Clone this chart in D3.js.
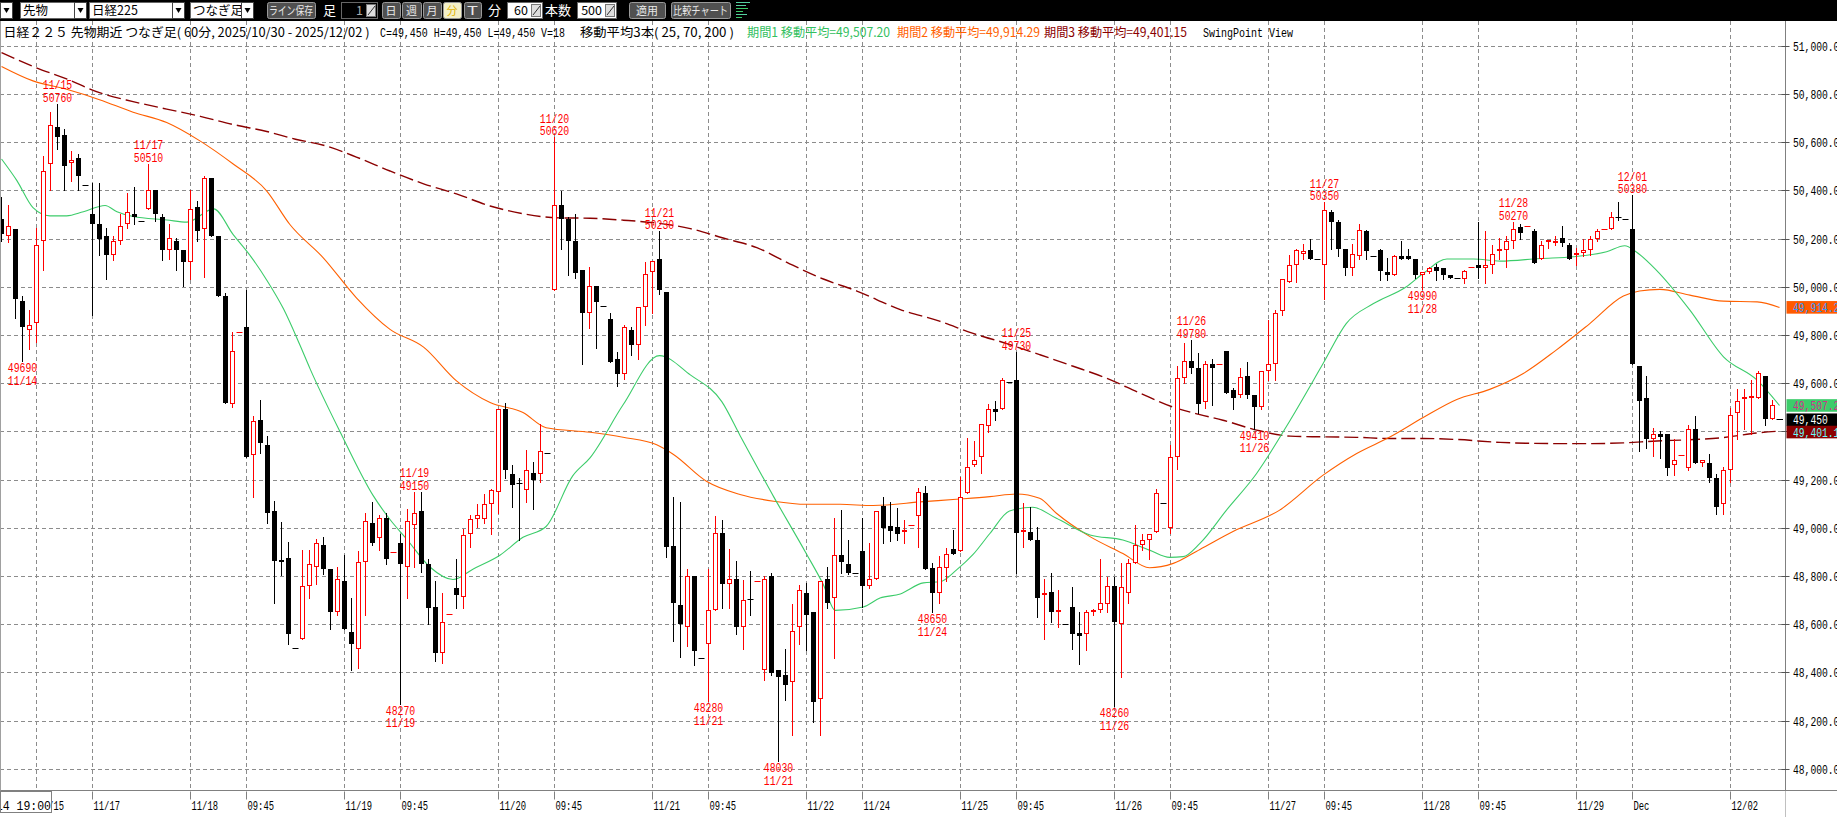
<!DOCTYPE html>
<html><head><meta charset="utf-8">
<script src="https://cdn.jsdelivr.net/npm/d3@7"></script>
<style>html,body{margin:0;padding:0;background:#fff;overflow:hidden}</style>
</head><body>
<svg id="c" width="1837" height="817" xmlns="http://www.w3.org/2000/svg"></svg>
<script>
// ---------------- DATA ----------------
const opens  = [50282,50210,50241,49941,49820,49848,50191,50509,50661,50631,50515,50532,50423,50303,50261,50211,50130,50189,50261,50303,
50273,50322,50402,50291,50151,50191,50151,50101,50330,50241,50452,50211,49962,49514,49812,49834,49302,49445,49343,49071,
48865,48873,48500,48540,48758,48837,48929,48829,48650,48780,48569,48497,48858,49021,48957,49039,48901,48937,48837,49010,
49070,48850,48669,48481,48640,48750,48711,48973,49037,49037,49100,49149,49491,49223,49184,49157,49228,49222,49309,49987,
50337,50280,50189,50069,49889,50004,49920,49868,49698,49637,49819,49758,49917,50060,50117,49979,48922,48681,48589,48800,
48460,48517,48657,48978,48767,48787,48589,48703,48779,48411,48800,48411,48390,48360,48589,48729,48652,48290,48787,48708,
48887,48849,48810,48902,48757,48787,49089,49008,49001,48981,49011,49050,49143,48831,48730,48831,48910,48903,49143,49259,
49293,49420,49492,49492,49605,49614,48981,48983,48951,48719,48732,48651,48602,48671,48563,48560,48651,48660,48682,48760,
48602,48730,48852,48929,48951,48981,49104,49000,49293,49621,49690,49663,49520,49681,49681,49732,49571,49550,49629,49550,
49499,49650,49681,49900,50019,50088,50137,50151,50115,50088,50309,50270,50158,50078,50129,50231,50129,50151,50060,50050,
50129,50129,50117,50050,50059,50082,50079,50050,50036,50030,50082,50088,50079,50088,50148,50152,50189,50249,50252,50231,
50117,50184,50180,50201,50173,50130,50138,50151,50199,50238,50238,50288,50280,50239,49670,49540,49368,49390,49390,49259,
49300,49249,49411,49268,49270,49208,49099,49241,49478,49536,49540,49540,49629,49449,49450];
const highs  = [50371,50340,50241,49962,49903,50242,50544,50724,50760,50654,50561,50552,50423,50432,50432,50242,50210,50303,50389,50413,
50273,50510,50402,50303,50261,50203,50151,50402,50354,50461,50452,50211,49972,49814,49812,49987,49462,49531,49381,49111,
49023,48940,48500,48909,48909,48955,48960,48829,48837,48886,48709,48903,49059,49108,49051,49059,48901,48973,49079,49150,
49150,48870,48780,48730,48640,48870,48993,49051,49100,49141,49160,49491,49519,49261,49207,49322,49271,49432,49309,50620,
50398,50289,50303,50069,50082,50004,49920,49889,49730,49841,49831,49917,50103,50108,50230,49979,49129,49107,48830,48800,
48460,48830,49050,49030,48910,48862,48783,48819,48779,48800,48811,48411,48497,48684,48764,48771,48652,48779,48835,49040,
49072,48951,48810,49042,48938,49070,49129,49105,49081,49032,49011,49164,49173,48852,48882,48914,48990,49209,49372,49360,
49430,49514,49524,49621,49605,49730,49104,49087,49001,48789,48810,48741,48602,48755,48651,48660,48664,48872,48796,48796,
48852,48872,49011,48974,48972,49161,49104,49344,49672,49767,49780,49725,49691,49698,49681,49732,49578,49661,49686,49550,
49650,49861,49902,50030,50131,50158,50179,50200,50115,50350,50320,50276,50158,50179,50262,50237,50129,50158,50119,50133,
50189,50158,50117,50059,50082,50096,50079,50050,50036,50068,50082,50270,50230,50172,50201,50210,50270,50262,50252,50238,
50189,50192,50210,50252,50180,50159,50199,50210,50238,50238,50310,50352,50280,50380,49670,49629,49414,49400,49390,49370,
49300,49428,49462,49280,49307,49221,49252,49498,49577,49577,49612,49651,49629,49529,49450];
const lows   = [50191,50187,49869,49690,49740,49769,50070,50402,50570,50402,50440,50402,50423,49881,50130,50030,50110,50179,50242,50260,
50273,50322,50273,50110,50117,50068,50001,50030,50189,50039,50210,49960,49519,49500,49812,49292,49128,49309,49020,48689,
48803,48519,48500,48540,48709,48768,48809,48581,48637,48581,48410,48418,48637,48929,48906,48850,48901,48270,48709,48837,
48817,48599,48446,48438,48640,48666,48666,48919,49001,49021,48973,49059,49207,49087,48949,49108,49079,49190,49309,49987,
50156,50050,50036,49680,49828,49746,49920,49688,49590,49618,49717,49698,49841,49889,49968,48878,48528,48465,48509,48430,
48460,48280,48657,48668,48668,48557,48497,48636,48779,48366,48390,48030,48287,48141,48517,48493,48195,48141,48668,48458,
48814,48806,48810,48671,48748,48787,48935,48946,48949,48935,49011,48921,48829,48650,48688,48780,48889,48903,49143,49254,
49229,49399,49448,49492,49605,48810,48921,48949,48630,48540,48609,48588,48602,48498,48433,48491,48637,48651,48651,48260,
48380,48688,48852,48907,48872,48981,49104,48979,49243,49600,49642,49476,49495,49509,49681,49560,49491,49543,49539,49410,
49491,49612,49612,49882,50019,50019,50115,50115,50115,49947,50158,50126,50048,50048,50115,50115,50129,50027,50027,50048,
50115,50115,50038,49990,50055,50027,50030,50038,50036,50016,50082,50038,50016,50057,50113,50080,50159,50199,50252,50099,
50117,50159,50171,50169,50116,50088,50127,50130,50189,50238,50238,50277,50280,49681,49318,49332,49296,49289,49220,49220,
49300,49241,49268,49255,49190,49058,49058,49191,49370,49410,49390,49540,49425,49449,49450];
const closes = [50220,50251,49951,49831,49841,50173,50480,50673,50621,50501,50525,50461,50423,50260,50199,50130,50189,50251,50309,50289,
50273,50402,50301,50151,50203,50151,50101,50322,50230,50452,50210,49960,49519,49734,49812,49292,49442,49350,49061,48860,
48858,48560,48500,48758,48850,48937,48829,48650,48788,48581,48517,48858,49029,48937,49039,48870,48901,48850,49029,49059,
48850,48666,48481,48607,48640,48719,48970,49037,49051,49100,49157,49491,49240,49179,49180,49240,49199,49320,49309,50337,
50280,50189,50056,49889,50004,49938,49920,49688,49637,49831,49758,49917,50051,50108,49987,48919,48687,48601,48800,48487,
48460,48657,48978,48767,48787,48589,48700,48698,48779,48787,48398,48379,48346,48570,48740,48636,48276,48779,48687,48887,
48859,48814,48810,48757,48787,49070,48999,48986,48974,48990,49011,49150,48829,48730,48838,48889,48889,49129,49251,49281,
49430,49492,49480,49611,49605,48979,48990,48949,48710,48730,48651,48660,48602,48560,48549,48651,48660,48689,48760,48609,
48752,48852,48929,48951,48972,49143,49104,49293,49621,49690,49663,49514,49681,49661,49681,49560,49539,49626,49550,49499,
49650,49681,49889,50030,50088,50151,50150,50115,50115,50320,50270,50158,50078,50137,50237,50148,50129,50064,50049,50129,
50115,50115,50049,50059,50078,50066,50050,50038,50036,50066,50082,50079,50088,50137,50156,50189,50238,50221,50252,50099,
50171,50192,50189,50180,50116,50138,50151,50199,50231,50238,50288,50284,50280,49681,49526,49368,49390,49376,49249,49280,
49300,49411,49268,49280,49208,49086,49241,49468,49526,49542,49548,49640,49449,49511,49450];

// moving averages: [bar index, value]
const ma25 = [[0,50530],[2.2,50440],[4.5,50328],[6.9,50294],[9.3,50294],[11.7,50311],[14.8,50337],[16.5,50311],[18.8,50291],[23.6,50277],
[26.5,50268],[30.3,50323],[33.1,50216],[35.5,50130],[37.9,50027],[40.3,49907],[42.6,49760],[44.1,49658],[48.4,49396],[53.1,49133],
[55.5,49034],[57.9,48952],[61.2,48837],[64.5,48785],[67.4,48829],[71.2,48886],[74.5,48960],[77.8,49005],[81.6,49215],[84.1,49291],
[88.8,49510],[94,49714],[98.4,49634],[102.9,49523],[105.5,49383],[110.3,49129],[115,48891],[117.4,48764],[119.1,48657],[123.1,48671],
[125.5,48708],[128.4,48725],[131.7,48771],[134.1,48776],[136.4,48824],[138.8,48889],[141.2,48976],[144,49069],[147.3,49085],[150.7,49039],
[155.5,48970],[160.2,48949],[164,48907],[166.9,48877],[168.8,48880],[171.2,48935],[175,49073],[179.3,49225],[184.1,49446],[188.8,49681],
[192.1,49847],[196,49930],[200.7,50000],[203.1,50055],[206.5,50115],[210.3,50115],[214.1,50106],[219.8,50117],[224.5,50124],[229.3,50145],
[231.9,50170],[233.5,50145],[236.4,50069],[241.2,49903],[246,49709],[250.8,49612],[254,49507]];
const ma70 = [[0,50914],[4.5,50854],[9.3,50819],[14,50776],[18.8,50724],[23.6,50681],[28.4,50604],[33.1,50509],[37.9,50397],[41.2,50258],
[46,50119],[50.7,49954],[55.5,49823],[60.3,49749],[65,49609],[69.8,49519],[74.5,49478],[77.8,49415],[84.1,49396],[88.8,49375],
[93.6,49344],[96,49304],[100.7,49193],[105.5,49138],[110.3,49110],[115,49097],[119.8,49097],[124.5,49092],[131.7,49108],[136.4,49118],
[141.2,49129],[145,49140],[148.3,49122],[150.7,49060],[155.5,48963],[160.2,48893],[164,48834],[167.4,48852],[171.2,48910],[176,48985],
[182.6,49073],[188.8,49218],[193.6,49308],[198.4,49377],[203.1,49457],[207.9,49532],[212.6,49574],[217.4,49640],[222.1,49737],[226.9,49847],
[231.7,49961],[234,49982],[236.9,49989],[241.2,49965],[246,49940],[250.8,49937],[254,49914]];
const ma200 = [[0,50971],[4.5,50914],[9.3,50862],[14,50805],[18.8,50768],[23.6,50737],[28.4,50707],[33.1,50673],[37.9,50644],[42,50612],
[46,50587],[50.7,50538],[55.5,50480],[60.3,50427],[65,50385],[69.8,50335],[74.5,50303],[79.3,50286],[84.1,50284],[88.8,50276],
[93.6,50264],[98.4,50241],[103.1,50202],[107.9,50162],[112.6,50095],[117.4,50032],[122.2,49982],[128.4,49905],[134,49857],[138.8,49806],
[143.6,49764],[148.3,49718],[153.1,49670],[157.8,49621],[162.6,49559],[167.4,49500],[171.2,49469],[174.5,49446],[179.3,49405],[184.1,49380],
[188.8,49377],[193.6,49375],[198.4,49370],[203.1,49370],[207.9,49366],[214.1,49354],[222.1,49349],[226.9,49349],[231.7,49352],[236.5,49360],
[241.2,49365],[246,49374],[250.8,49393],[254,49401]];

const priceTicks = [48000,48200,48400,48600,48800,49000,49200,49400,49600,49800,50000,50200,50400,50600,50800,51000];
const timeTickIdx = [5,13,27,35,49,57,71,79,93,101,115,123,137,145,159,167,181,189,203,211,225,233,247];
const timeTickLabels = ["11/15","11/17","11/18","09:45","11/19","09:45","11/20","09:45","11/21","09:45","11/22","11/24","11/25","09:45","11/26","09:45","11/27","09:45","11/28","09:45","11/29","Dec","12/02"];

const swingHighIdx = [8,21,59,79,94,145,170,189,216,233];
const swingHighDate = ["11/15","11/17","11/19","11/20","11/21","11/25","11/26","11/27","11/28","12/01"];
const swingLowIdx = [3,57,101,111,133,159,179,203];
const swingLowDate = ["11/14","11/19","11/21","11/21","11/24","11/26","11/26","11/28"];

const lastValues = [49914.29, 49507.20, 49450, 49401.15];
const lastLabels = ["49,914.29","49,507.20","49,450","49,401.15"];

// ---------------- DRAW ----------------
const W = 1837, H = 817;
const svg = d3.select("#c");
const N = closes.length;
const x = d3.scaleLinear().domain([0, N-1]).range([1.5, 1.5 + 7*(N-1)]);
const y = d3.scaleLinear().domain([48000, 51000]).range([768.7, 45.7]);
const axisX = 1785.5, plotTop = 21, plotBottom = 790.5;
const RED = "#ff0000", GRID = "#8c8c8c";
const MONO = "'Liberation Mono','DejaVu Sans Mono',monospace";
const JP = "'Noto Sans CJK JP','Noto Sans',sans-serif";

svg.append("rect").attr("width", W).attr("height", H).attr("fill", "#fff");

function mtext(g, xx, yy, s, o) {
  o = o || {};
  const t = g.append("text").attr("x", xx).attr("y", yy).text(s)
    .attr("font-family", o.family || MONO).attr("font-size", o.size || 12)
    .attr("fill", o.fill || "#000").attr("text-anchor", o.anchor || "start");
  if (o.cw) t.attr("textLength", s.length * o.cw).attr("lengthAdjust", "spacingAndGlyphs");
  if (o.len) t.attr("textLength", o.len).attr("lengthAdjust", "spacingAndGlyphs");
  if (o.weight) t.attr("font-weight", o.weight);
  return t;
}

// gridlines
const grid = svg.append("g");
priceTicks.forEach(v => {
  const yy = Math.round(y(v)) + 0.5;
  grid.append("line").attr("x1", 0).attr("x2", axisX).attr("y1", yy).attr("y2", yy)
    .attr("stroke", GRID).attr("stroke-dasharray", "4,3");
});
timeTickIdx.forEach(i => {
  const xx = x(i);
  grid.append("line").attr("x1", xx).attr("x2", xx).attr("y1", plotTop).attr("y2", plotBottom)
    .attr("stroke", GRID).attr("stroke-dasharray", "4,3");
});

// moving averages
const lineGen = d3.line().x(d => x(d[0])).y(d => y(d[1])).curve(d3.curveMonotoneX);
svg.append("path").attr("d", lineGen(ma200)).attr("fill", "none").attr("stroke", "#8b0000")
  .attr("stroke-width", 1.4).attr("stroke-dasharray", "14,5");
svg.append("path").attr("d", lineGen(ma70)).attr("fill", "none").attr("stroke", "#ff6000").attr("stroke-width", 1.1);
svg.append("path").attr("d", lineGen(ma25)).attr("fill", "none").attr("stroke", "#3ccc6a").attr("stroke-width", 1.1);

// candles
const cg = svg.append("g");
for (let i = 0; i < N; i++) {
  const o = opens[i], h = highs[i], l = lows[i], c = closes[i];
  const prev = i > 0 ? closes[i-1] : c;
  const up = c > o || (c === o && c > prev);
  const col = up ? RED : "#000";
  const cx = x(i);
  if (h === l) {
    const yy = Math.round(y(c)) + 0.5;
    cg.append("line").attr("x1", cx-3).attr("x2", cx+3).attr("y1", yy).attr("y2", yy).attr("stroke", col);
    continue;
  }
  cg.append("line").attr("x1", cx).attr("x2", cx).attr("y1", Math.round(y(h))).attr("y2", Math.round(y(l))+1)
    .attr("stroke", col);
  const top = Math.round(y(Math.max(o, c))), bot = Math.round(y(Math.min(o, c)));
  if (bot - top < 2) {
    const yy = top + 0.5;
    cg.append("line").attr("x1", cx-3).attr("x2", cx+3).attr("y1", yy).attr("y2", yy).attr("stroke", col);
  } else if (up) {
    cg.append("rect").attr("x", cx-2).attr("y", top+0.5).attr("width", 4).attr("height", bot-top-1)
      .attr("fill", "#fff").attr("stroke", RED);
  } else {
    cg.append("rect").attr("x", cx-2.5).attr("y", top).attr("width", 5).attr("height", bot-top).attr("fill", "#000");
  }
}

// swing point labels
const sg = svg.append("g");
swingHighIdx.forEach((i, k) => {
  const yy = y(highs[i]);
  mtext(sg, x(i), yy - 2, String(highs[i]), {anchor: "middle", fill: RED, cw: 5.9, size: 12.5});
  mtext(sg, x(i), yy - 14.5, swingHighDate[k], {anchor: "middle", fill: RED, cw: 5.9, size: 12.5});
});
swingLowIdx.forEach((i, k) => {
  const yy = y(lows[i]);
  mtext(sg, x(i), yy + 11, String(lows[i]), {anchor: "middle", fill: RED, cw: 5.9, size: 12.5});
  mtext(sg, x(i), yy + 23.5, swingLowDate[k], {anchor: "middle", fill: RED, cw: 5.9, size: 12.5});
});

// right axis
const ag = svg.append("g");
ag.append("line").attr("x1", axisX).attr("x2", axisX).attr("y1", plotTop).attr("y2", H).attr("stroke", "#808080");
const fmt = d3.format(",.1f");
priceTicks.forEach(v => {
  const yy = Math.round(y(v)) + 0.5;
  ag.append("line").attr("x1", axisX-4).attr("x2", axisX+4).attr("y1", yy).attr("y2", yy).attr("stroke", "#555");
  mtext(ag, 1793, yy + 4.5, fmt(v), {cw: 5.8});
});
// value boxes
const boxBg = ["#ff5a00", "#3ccc6a", "#000000", "#8b0000"];
const boxFg = ["#3399ff", "#d0308a", "#ffffff", "#66ffff"];
lastValues.forEach((v, k) => {
  let yc = y(v);
  if (k === 2) yc = y(v) + 0.5;
  if (k === 3) yc = Math.max(y(v), y(lastValues[2]) + 12.8);
  ag.append("rect").attr("x", axisX+1).attr("y", yc-6.3).attr("width", W-axisX).attr("height", 12.6).attr("fill", boxBg[k]);
  mtext(ag, 1793, yc + 4.5, lastLabels[k], {cw: 5.8, fill: boxFg[k]});
});
ag.append("line").attr("x1", 1780).attr("x2", 1783).attr("y1", Math.round(y(lastValues[2]))+0.5)
  .attr("y2", Math.round(y(lastValues[2]))+0.5).attr("stroke", "#000");

// bottom axis
const bg = svg.append("g");
bg.append("rect").attr("x", 0).attr("y", plotBottom+0.5).attr("width", axisX).attr("height", H-plotBottom).attr("fill", "#fff");
bg.append("line").attr("x1", 0).attr("x2", W).attr("y1", plotBottom).attr("y2", plotBottom).attr("stroke", "#808080");
timeTickIdx.forEach((i, k) => {
  const xx = x(i);
  bg.append("line").attr("x1", xx).attr("x2", xx).attr("y1", plotBottom+1).attr("y2", plotBottom+9).attr("stroke", "#808080");
  mtext(bg, xx + 1, 810, timeTickLabels[k], {cw: 5.3, size: 12});
});
// crosshair-style first bar time box
const cb = bg.append("g");
cb.append("rect").attr("x", 0.5).attr("y", 791.5).attr("width", 51).attr("height", 21).attr("fill", "#fff").attr("stroke", "#808080");
cb.append("clipPath").attr("id", "cbclip").append("rect").attr("x", 1).attr("y", 792).attr("width", 50).attr("height", 20);
mtext(cb, 51, 810, "11/14 19:00", {anchor: "end", cw: 6.9}).attr("clip-path", "url(#cbclip)");
svg.append("line").attr("x1", 0.5).attr("x2", 0.5).attr("y1", plotTop).attr("y2", plotBottom).attr("stroke", "#a0a0a0");

// info row
const ig = svg.append("g");
mtext(ig, 3.6, 37, "日経２２５ 先物期近 つなぎ足( 60分, 2025/10/30 - 2025/12/02 )", {family: JP, size: 12.5, len: 366});
mtext(ig, 380, 37, "C=49,450 H=49,450 L=49,450 V=18", {family: MONO, size: 12.5, len: 185});
mtext(ig, 580, 37, "移動平均3本( 25, 70, 200 )", {family: JP, size: 12.5, len: 154});
mtext(ig, 747, 37, "期間1 移動平均=49,507.20", {family: JP, size: 12.5, len: 143, fill: "#33c060"});
mtext(ig, 897, 37, "期間2 移動平均=49,914.29", {family: JP, size: 12.5, len: 143, fill: "#ff6000"});
mtext(ig, 1044, 37, "期間3 移動平均=49,401.15", {family: JP, size: 12.5, len: 143, fill: "#8b0000"});
mtext(ig, 1203, 37, "SwingPoint View", {family: MONO, size: 12.5, len: 90});

// toolbar
const tb = svg.append("g");
tb.append("rect").attr("x", 0).attr("y", 0).attr("width", W).attr("height", 21).attr("fill", "#000");
function ddBtn(xx) {
  tb.append("rect").attr("x", xx+0.5).attr("y", 2.5).attr("width", 12).attr("height", 16).attr("fill", "#fff").attr("stroke", "#444");
  tb.append("path").attr("d", `M${xx+3.5},8 L${xx+9.5},8 L${xx+6.5},13 Z`).attr("fill", "#000");
}
function field(xx, w, s, anchor, bgc, fg) {
  tb.append("rect").attr("x", xx+0.5).attr("y", 2.5).attr("width", w).attr("height", 16).attr("fill", bgc || "#fff").attr("stroke", "#666");
  mtext(tb, anchor === "end" ? xx + w - 14 : xx + 3, 15, s, {family: JP, size: 12.5, fill: fg || "#000", anchor: anchor || "start"});
}
function button(xx, w, s, bgc, fg) {
  tb.append("rect").attr("x", xx+0.5).attr("y", 2.5).attr("width", w).attr("height", 16).attr("rx", 2)
    .attr("fill", bgc || "#505050").attr("stroke", "#9a9a9a");
  mtext(tb, xx + w/2, 15, s, {family: JP, size: 11.5, fill: fg || "#e8e8e8", anchor: "middle", len: Math.min(w-4, s.length*11)});
}
function spinner(xx) {
  tb.append("rect").attr("x", xx+0.5).attr("y", 4.5).attr("width", 9).attr("height", 12).attr("fill", "#ddd").attr("stroke", "#777");
  tb.append("line").attr("x1", xx+2).attr("y1", 15).attr("x2", xx+9).attr("y2", 6).attr("stroke", "#333");
}
ddBtn(0);
field(20, 54, "先物"); ddBtn(74);
field(89, 83, "日経225"); ddBtn(172);
field(190, 51, "つなぎ足"); ddBtn(241);
button(267, 48, "ライン保存");
mtext(tb, 323, 15, "足", {family: JP, size: 13, fill: "#fff"});
field(341, 36, "1", "end", "#000", "#aaa"); spinner(366);
button(382, 18, "日"); button(402, 19, "週"); button(423, 18, "月");
button(443, 18, "分", "#f4f0c8", "#e0b000"); button(464, 17, "T");
mtext(tb, 488, 15, "分", {family: JP, size: 13, fill: "#fff"});
field(507, 35, "60", "end"); spinner(531);
mtext(tb, 545, 15, "本数", {family: JP, size: 13, fill: "#fff"});
field(577, 39, "500", "end"); spinner(605);
button(629, 36, "適用");
button(671, 59, "比較チャート");
[[2,14,"#55d0a0"],[5,10,"#55d0a0"],[8,12,"#3ccc6a"],[11,7,"#3ccc6a"],[14,11,"#55d0a0"],[17,6,"#3ccc6a"]].forEach(d => {
  tb.append("line").attr("x1", 736).attr("x2", 736 + d[1]).attr("y1", d[0]+0.5).attr("y2", d[0]+0.5).attr("stroke", d[2]);
});
</script>
</body></html>
